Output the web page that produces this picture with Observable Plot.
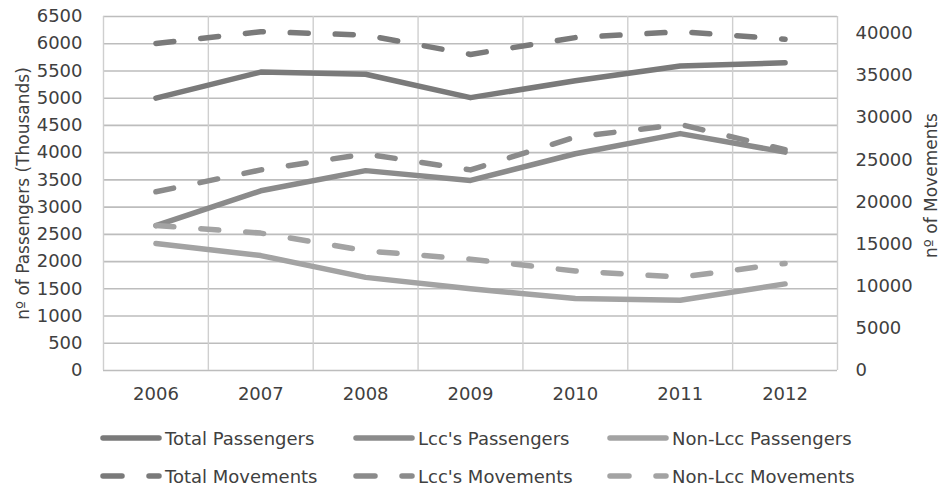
<!DOCTYPE html>
<html><head><meta charset="utf-8">
<script src="https://cdn.jsdelivr.net/npm/d3@7"></script>
<script src="https://cdn.jsdelivr.net/npm/@observablehq/plot@0.6"></script>
<style>
body{margin:0;background:#fff;font-family:"DejaVu Sans",Verdana,sans-serif;}
#legend{position:relative;height:80px;width:942px;font-size:18px;color:#404040;}
.item{position:absolute;display:flex;align-items:center;height:24px;margin-top:-12px;white-space:nowrap;}
.item svg{margin-right:3px;}
</style></head><body><div id="chart"></div><div id="legend"></div>
<script>
const years = [2006, 2007, 2008, 2009, 2010, 2011, 2012];
const totalPassengers = [5000, 5480, 5440, 5010, 5320, 5590, 5650];
const lccPassengers = [2660, 3300, 3670, 3490, 3980, 4350, 4010];
const nonLccPassengers = [2330, 2110, 1710, 1500, 1320, 1290, 1590];
const totalMovements = [38800, 40200, 39800, 37500, 39500, 40200, 39300];
const lccMovements = [21200, 23800, 25700, 23800, 27700, 29200, 26200];
const nonLccMovements = [17200, 16300, 14200, 13200, 11800, 11070, 12700];
const leftTicks = [0, 500, 1000, 1500, 2000, 2500, 3000, 3500, 4000, 4500, 5000, 5500, 6000, 6500];
const rightTicks = [0, 5000, 10000, 15000, 20000, 25000, 30000, 35000, 40000];
const leftMax = 6500, rightMax = 42000;
const leftTitle = "nº of Passengers (Thousands)";
const rightTitle = "nº of Movements";

const series = [
  {name: "Total Passengers", values: totalPassengers, axis: "left", color: "#7a7a7a", dashed: false},
  {name: "Lcc's Passengers", values: lccPassengers, axis: "left", color: "#8b8b8b", dashed: false},
  {name: "Non-Lcc Passengers", values: nonLccPassengers, axis: "left", color: "#a3a3a3", dashed: false},
  {name: "Total Movements", values: totalMovements, axis: "right", color: "#7a7a7a", dashed: true},
  {name: "Lcc's Movements", values: lccMovements, axis: "right", color: "#8b8b8b", dashed: true},
  {name: "Non-Lcc Movements", values: nonLccMovements, axis: "right", color: "#a3a3a3", dashed: true}
];
const toLeft = v => v * leftMax / rightMax;
const bounds = years.map(y => y - 0.5).concat([years[years.length - 1] + 0.5]);

const lineMarks = series.map(s => Plot.line(
  years.map((y, i) => ({year: y, v: s.axis === "left" ? s.values[i] : toLeft(s.values[i])})),
  {x: "year", y: "v", stroke: s.color, strokeWidth: 5.5, strokeLinecap: "round", strokeLinejoin: "round",
   strokeDasharray: s.dashed ? "18,27" : null}
));

const chart = Plot.plot({
  width: 942, height: 410,
  marginLeft: 103, marginRight: 105, marginTop: 16, marginBottom: 40,
  style: {fontSize: "18px", fontFamily: "'DejaVu Sans', Verdana, sans-serif", color: "#404040", background: "#fff", overflow: "visible"},
  x: {type: "linear", domain: [years[0] - 0.5, years[years.length - 1] + 0.5]},
  y: {domain: [0, leftMax]},
  marks: [
    Plot.ruleY(leftTicks, {stroke: "#bdbdbd", strokeWidth: 1.6}),
    Plot.ruleX(bounds, {stroke: "#cfcfcf", strokeWidth: 1.4}),
    Plot.axisX(years, {anchor: "bottom", tickSize: 0, tickPadding: 17, tickFormat: d => String(d), label: null}),
    Plot.axisY(leftTicks, {anchor: "left", tickSize: 0, tickPadding: 21, tickFormat: d => String(d), label: null}),
    Plot.axisY(rightTicks.map(toLeft), {anchor: "right", tickSize: 0, tickPadding: 18, tickFormat: d => String(Math.round(d * rightMax / leftMax)), label: null}),
    Plot.text([leftTitle], {frameAnchor: "left", textAnchor: "middle", lineAnchor: "middle", rotate: -90, dx: -80, fill: "#404040", fontSize: 17}),
    Plot.text([rightTitle], {frameAnchor: "right", textAnchor: "middle", lineAnchor: "middle", rotate: -90, dx: 94, dy: -8, fill: "#404040", fontSize: 17}),
    ...lineMarks
  ]
});
document.getElementById("chart").appendChild(chart);

// legend
const legend = d3.select("#legend");
const lefts = [100, 353, 607];
const tops = [28, 66];
series.forEach((s, i) => {
  const col = i % 3, row = Math.floor(i / 3);
  const item = legend.append("div").attr("class", "item")
    .style("left", lefts[col] + "px").style("top", tops[row] + "px");
  const svg = item.append("svg").attr("width", 62).attr("height", 10);
  svg.append("line").attr("x1", 3).attr("x2", 59).attr("y1", 5).attr("y2", 5)
    .attr("stroke", s.color).attr("stroke-width", 5.5).attr("stroke-linecap", "round")
    .attr("stroke-dasharray", s.dashed ? "19,27" : null);
  item.append("span").text(s.name);
});
</script></body></html>
